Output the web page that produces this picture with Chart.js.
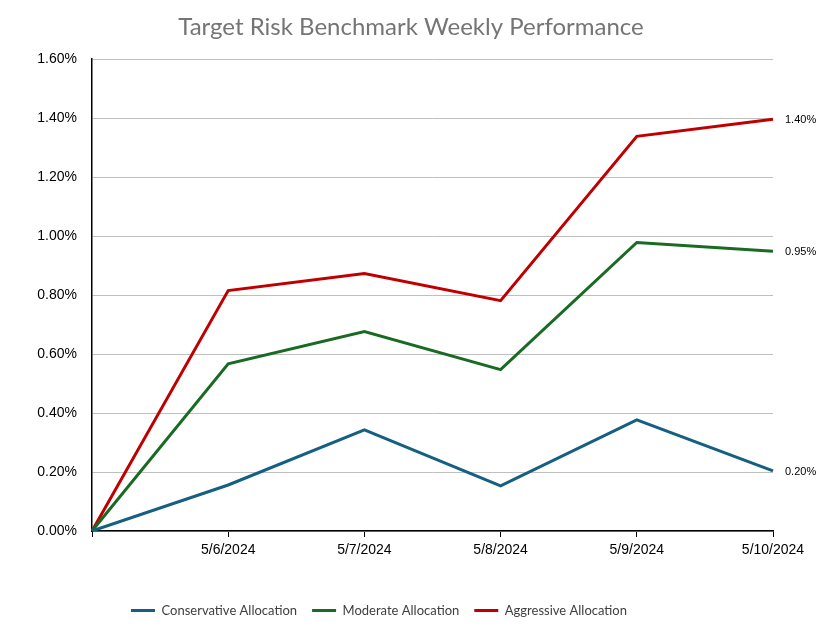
<!DOCTYPE html>
<html>
<head>
<meta charset="utf-8">
<script src="https://cdn.jsdelivr.net/npm/chart.js@4.4.1/dist/chart.umd.min.js"></script>
<style>
  html, body { margin: 0; padding: 0; background: #fff; }
  #wrap { width: 822px; height: 632px; }
</style>
</head>
<body>
<div id="wrap"><canvas id="perfChart" width="822" height="632"></canvas></div>
<script>
// data (percent)
const dates = ['', '5/6/2024', '5/7/2024', '5/8/2024', '5/9/2024', '5/10/2024'];
const conservative = [0, 0.156, 0.343, 0.153, 0.377, 0.204];
const moderate = [0, 0.567, 0.676, 0.547, 0.978, 0.948];
const aggressive = [0, 0.815, 0.873, 0.781, 1.338, 1.396];
const yTicks = [0, 0.2, 0.4, 0.6, 0.8, 1.0, 1.2, 1.4, 1.6];
const chartTitle = 'Target Risk Benchmark Weekly Performance';

const fmtPct = v => v.toFixed(2) + '%';

// title centred on the whole canvas (Excel style), plus value at the end of each line
const extras = {
    id: 'extras',
    afterDatasetsDraw(chart) {
        const ctx = chart.ctx;
        ctx.save();
        ctx.font = '11px "Liberation Sans", Arial, sans-serif';
        ctx.fillStyle = '#000';
        ctx.textAlign = 'left';
        ctx.textBaseline = 'middle';
        chart.data.datasets.forEach((ds, i) => {
            const pts = chart.getDatasetMeta(i).data;
            const last = pts[pts.length - 1];
            ctx.fillText(fmtPct(ds.data[ds.data.length - 1]), last.x + 12, last.y + 1);
        });

        ctx.font = '24px Lato, "Open Sans", sans-serif';
        ctx.fillStyle = '#757575';
        ctx.textAlign = 'center';
        ctx.textBaseline = 'alphabetic';
        ctx.fillText(chartTitle, chart.width / 2, 35);
        ctx.restore();
    }
};

const ctx = document.getElementById('perfChart').getContext('2d');
new Chart(ctx, {
    type: 'line',
    data: {
        labels: dates,
        datasets: [
            { label: 'Conservative Allocation', data: conservative, borderColor: '#156082', backgroundColor: '#156082', borderWidth: 3 },
            { label: 'Moderate Allocation', data: moderate, borderColor: '#196b24', backgroundColor: '#196b24', borderWidth: 3 },
            { label: 'Aggressive Allocation', data: aggressive, borderColor: '#c00000', backgroundColor: '#c00000', borderWidth: 3 }
        ]
    },
    options: {
        responsive: false,
        animation: false,
        devicePixelRatio: 1,
        layout: { padding: { left: -15, right: 49, top: 59, bottom: 5 } },
        elements: {
            line: { tension: 0 },
            point: { radius: 0, hoverRadius: 0 }
        },
        plugins: {
            title: { display: false },
            legend: {
                position: 'bottom',
                labels: {
                    usePointStyle: true,
                    pointStyle: 'line',
                    pointStyleWidth: 24,
                    color: '#404040',
                    padding: 15,
                    font: { family: 'Lato, "Open Sans", sans-serif', size: 13 }
                }
            },
            tooltip: { enabled: false }
        },
        scales: {
            x: {
                offset: false,
                grid: { drawOnChartArea: false, drawTicks: true, tickLength: 6, color: '#000' },
                border: { color: '#000', width: 1.5 },
                ticks: {
                    color: '#000',
                    padding: 5,
                    maxRotation: 0,
                    autoSkip: false,
                    font: { family: '"Liberation Sans", Arial, sans-serif', size: 14 }
                },
                afterFit(scale) { scale.height = 58; }
            },
            y: {
                min: 0,
                max: 1.6,
                afterBuildTicks(scale) { scale.ticks = yTicks.map(v => ({ value: v })); },
                grid: { color: '#bfbfbf', drawTicks: false },
                border: { color: '#000', width: 1.5 },
                ticks: {
                    color: '#000',
                    padding: 15,
                    callback: v => fmtPct(v),
                    font: { family: '"Liberation Sans", Arial, sans-serif', size: 14 }
                },
                afterFit(scale) { scale.width = 107; }
            }
        }
    },
    plugins: [extras]
});
</script>
</body>
</html>
